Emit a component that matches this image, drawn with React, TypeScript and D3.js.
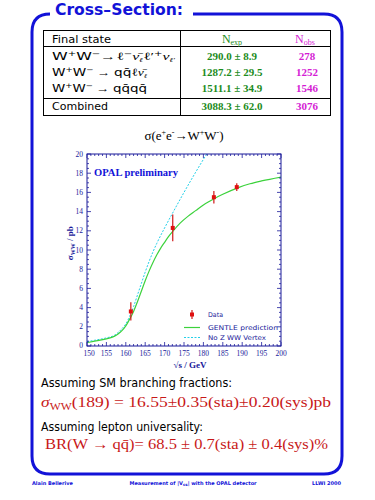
import React from "react";
import * as d3 from "d3";

const energies = [161.3, 172.1, 182.7, 188.6];
const xsec = [3.6, 12.3, 15.5, 16.55];
const xsecErr = [0.95, 1.4, 0.65, 0.4];

const gentleE = [150, 152, 155, 157, 158, 159, 160, 161, 162, 163, 164, 165, 166, 167, 168, 169, 170, 171, 172, 174, 176, 178, 180, 183, 185, 189, 192, 195, 200];
const gentleS = [0.35, 0.5, 0.75, 1.0, 1.25, 1.6, 2.1, 2.8, 3.6, 4.6, 5.7, 6.8, 7.8, 8.7, 9.5, 10.2, 10.8, 11.4, 11.9, 12.8, 13.5, 14.1, 14.7, 15.4, 15.8, 16.5, 16.9, 17.2, 17.6];

const noZE = [150, 152, 155, 157, 158, 159, 160, 161, 162, 163, 164, 165, 166, 167, 168, 170, 172, 175, 178, 181];
const noZS = [0.45, 0.6, 0.85, 1.1, 1.4, 1.8, 2.3, 3.1, 4.1, 5.3, 6.5, 7.7, 8.8, 9.8, 10.7, 12.3, 13.8, 16.0, 18.1, 20.1];

const xTicks = [150, 155, 160, 165, 170, 175, 180, 185, 190, 195, 200];
const yTicks = [0, 2, 4, 6, 8, 10, 12, 14, 16, 18, 20];

const tableNexp = ["290.0 ± 8.9", "1287.2 ± 29.5", "1511.1 ± 34.9"];
const tableNobs = ["278", "1252", "1546"];
const combinedNexp = "3088.3 ± 62.0";
const combinedNobs = "3076";

const BLUE = "#1212d8";
const AXIS = "#1a1a9a";
const GREEN = "#1c8c1c";
const MAGENTA = "#d41cd4";
const RED = "#c81818";

export default function App() {
  const x = d3.scaleLinear().domain([150, 200]).range([87, 281]);
  const y = d3.scaleLinear().domain([0, 20]).range([346, 154]);
  const gLine = d3
    .line<[number, number]>()
    .x((d) => x(d[0]))
    .y((d) => y(d[1]))
    .curve(d3.curveMonotoneX);
  const gentle = gLine(gentleE.map((e, i) => [e, gentleS[i]] as [number, number]));
  const noZ = gLine(noZE.map((e, i) => [e, noZS[i]] as [number, number]));

  const xMinor = d3.range(150, 201, 1);
  const yMinor = d3.range(0, 20.01, 0.5);

  const serif = "'Liberation Serif', 'DejaVu Serif', serif";
  const sans = "'DejaVu Sans', 'Liberation Sans', sans-serif";

  const rowY = [60, 76, 92];
  const [x0, x1] = x.range();
  const [y0, y1] = y.range();

  return (
    <svg width={375} height={500} style={{ position: "absolute", left: 0, top: 0, background: "#fff" }}>
      <defs>
        <clipPath id="plotclip">
          <rect x={x0} y={y1} width={x1 - x0} height={y0 - y1} />
        </clipPath>
      </defs>
      {/* frame */}
      <path
        d="M 50 14 Q 32 14 32 32 L 32 456 Q 32 474 50 474 L 324 474 Q 342 474 342 456 L 342 32 Q 342 14 324 14 L 193 14"
        fill="none"
        stroke={BLUE}
        strokeWidth={3}
      />
      <text x={55} y={15} fontFamily={sans} fontWeight="bold" fontSize={16} fill={BLUE} textLength={128} lengthAdjust="spacingAndGlyphs">
        Cross–Section:
      </text>

      {/* table */}
      <rect x={43.5} y={30.5} width={287} height={85} fill="none" stroke="#000" strokeWidth={1} />
      <line x1={43.5} x2={330.5} y1={46.5} y2={46.5} stroke="#000" />
      <line x1={43.5} x2={330.5} y1={98.5} y2={98.5} stroke="#000" />
      <line x1={180.5} x2={180.5} y1={30.5} y2={115.5} stroke="#000" />
      <text x={52} y={43} fontFamily={sans} fontSize={11} fill="#000" textLength={59} lengthAdjust="spacingAndGlyphs">Final state</text>
      <text x={232} y={43} textAnchor="middle" fontFamily={serif} fontSize={12} fill={GREEN}>
        N<tspan fontSize={8} dy={2}>exp</tspan>
      </text>
      <text x={305} y={43} textAnchor="middle" fontFamily={serif} fontSize={12} fill={MAGENTA}>
        N<tspan fontSize={8} dy={2}>obs</tspan>
      </text>
      {/* row 1 */}
      <text x={52} y={rowY[0]} fontFamily={sans} fontSize={11} fill="#000" textLength={123} lengthAdjust="spacingAndGlyphs">
        W<tspan fontSize={7} dy={-4}>+</tspan><tspan dy={4}>W</tspan><tspan fontSize={7} dy={-4}>−</tspan>
        <tspan dy={4} fontFamily={serif}>→ℓ</tspan><tspan fontSize={7} dy={-4}>−</tspan>
        <tspan dy={4} fontFamily={serif} fontStyle="italic">ν̄</tspan><tspan fontSize={6} dy={2} fontFamily={serif} fontStyle="italic">ℓ</tspan>
        <tspan dy={-2} fontFamily={serif}>ℓ′</tspan><tspan fontSize={7} dy={-4}>+</tspan>
        <tspan dy={4} fontFamily={serif} fontStyle="italic">ν</tspan><tspan fontSize={6} dy={2} fontFamily={serif} fontStyle="italic">ℓ′</tspan>
      </text>
      <text x={52} y={rowY[1]} fontFamily={sans} fontSize={11} fill="#000" textLength={95} lengthAdjust="spacingAndGlyphs">
        W<tspan fontSize={7} dy={-4}>+</tspan><tspan dy={4}>W</tspan><tspan fontSize={7} dy={-4}>−</tspan>
        <tspan dy={4} fontFamily={serif}> → </tspan><tspan>qq̄</tspan>
        <tspan fontFamily={serif}>ℓ</tspan><tspan fontFamily={serif} fontStyle="italic">ν̄</tspan>
        <tspan fontSize={6} dy={2} fontFamily={serif} fontStyle="italic">ℓ</tspan>
      </text>
      <text x={52} y={rowY[2]} fontFamily={sans} fontSize={11} fill="#000" textLength={95} lengthAdjust="spacingAndGlyphs">
        W<tspan fontSize={7} dy={-4}>+</tspan><tspan dy={4}>W</tspan><tspan fontSize={7} dy={-4}>−</tspan>
        <tspan dy={4} fontFamily={serif}> → </tspan><tspan>qq̄qq̄</tspan>
      </text>
      {tableNexp.map((v, i) => (
        <text key={"e" + i} x={232} y={rowY[i]} textAnchor="middle" fontFamily={serif} fontWeight="bold" fontSize={11} fill={GREEN}>
          {v}
        </text>
      ))}
      {tableNobs.map((v, i) => (
        <text key={"o" + i} x={307} y={rowY[i]} textAnchor="middle" fontFamily={serif} fontWeight="bold" fontSize={11} fill={MAGENTA}>
          {v}
        </text>
      ))}
      <text x={52} y={110} fontFamily={sans} fontSize={11} fill="#000" textLength={56} lengthAdjust="spacingAndGlyphs">Combined</text>
      <text x={232} y={110} textAnchor="middle" fontFamily={serif} fontWeight="bold" fontSize={11} fill={GREEN}>
        {combinedNexp}
      </text>
      <text x={307} y={110} textAnchor="middle" fontFamily={serif} fontWeight="bold" fontSize={11} fill={MAGENTA}>
        {combinedNobs}
      </text>

      {/* plot title */}
      <text x={184} y={140} textAnchor="middle" fontFamily={serif} fontSize={13} fill="#000">
        σ(e<tspan fontSize={8} dy={-5}>+</tspan><tspan dy={5}>e</tspan><tspan fontSize={8} dy={-5}>-</tspan>
        <tspan dy={5}>→W</tspan><tspan fontSize={8} dy={-5}>+</tspan><tspan dy={5}>W</tspan>
        <tspan fontSize={8} dy={-5}>-</tspan><tspan dy={5}>)</tspan>
      </text>

      {/* curves */}
      <g clipPath="url(#plotclip)">
        <path d={noZ || ""} fill="none" stroke="#22d0e8" strokeWidth={1} strokeDasharray="2,1.5" />
        <path d={gentle || ""} fill="none" stroke="#3cd23c" strokeWidth={1.2} />
      </g>

      {/* data */}
      {energies.map((e, i) => (
        <g key={"d" + i}>
          <line x1={x(e)} x2={x(e)} y1={y(xsec[i] - xsecErr[i])} y2={y(xsec[i] + xsecErr[i])} stroke="#d01818" strokeWidth={1.2} />
          <rect x={x(e) - 2} y={y(xsec[i]) - 2} width={4} height={4} fill="#e01010" />
        </g>
      ))}

      {/* axes frame */}
      <rect x={x0} y={y1} width={x1 - x0} height={y0 - y1} fill="none" stroke={AXIS} strokeWidth={1} />
      {xMinor.map((v) => {
        const major = v % 5 === 0;
        const l = major ? 4 : 2;
        return (
          <g key={"xt" + v}>
            <line x1={x(v)} x2={x(v)} y1={y0} y2={y0 - l} stroke={AXIS} strokeWidth={0.8} />
            <line x1={x(v)} x2={x(v)} y1={y1} y2={y1 + l} stroke={AXIS} strokeWidth={0.8} />
          </g>
        );
      })}
      {yMinor.map((v) => {
        const major = Math.abs(v % 2) < 1e-6;
        const l = major ? 4 : 2;
        return (
          <g key={"yt" + v}>
            <line x1={x0} x2={x0 + l} y1={y(v)} y2={y(v)} stroke={AXIS} strokeWidth={0.8} />
            <line x1={x1} x2={x1 - l} y1={y(v)} y2={y(v)} stroke={AXIS} strokeWidth={0.8} />
          </g>
        );
      })}
      {xTicks.map((v) => (
        <text key={"xl" + v} x={x(v) + (v === 150 ? 2 : 0)} y={356} textAnchor="middle" fontFamily={serif} fontSize={7.5} fill={AXIS}>
          {v}
        </text>
      ))}
      {yTicks.map((v) => (
        <text key={"yl" + v} x={83} y={y(v) + 2.5 - (v === 0 ? 1 : 0)} textAnchor="end" fontFamily={serif} fontSize={7.5} fill={AXIS}>
          {v}
        </text>
      ))}
      <text x={190} y={368} textAnchor="middle" fontFamily={serif} fontWeight="bold" fontSize={9} fill={AXIS}>
        √s / GeV
      </text>
      <text transform={`translate(73,${y(10.7)}) rotate(-90)`} textAnchor="middle" fontFamily={serif} fontWeight="bold" fontSize={9} fill={AXIS}>
        σ<tspan fontSize={6} dy={2}>WW</tspan><tspan dy={-2}> / pb</tspan>
      </text>
      <text x={94} y={176} fontFamily={serif} fontWeight="bold" fontSize={10} fill={BLUE} textLength={84} lengthAdjust="spacingAndGlyphs">
        OPAL preliminary
      </text>

      {/* legend */}
      <line x1={192} x2={192} y1={310} y2={319} stroke="#d01818" strokeWidth={1.2} />
      <rect x={190} y={312.5} width={4} height={4} fill="#e01010" />
      <text x={208} y={317} fontFamily={sans} fontSize={6.5} fill={AXIS} textLength={15} lengthAdjust="spacingAndGlyphs">Data</text>
      <line x1={184} x2={200} y1={327.5} y2={327.5} stroke="#3cd23c" strokeWidth={1.2} />
      <text x={208} y={330} fontFamily={sans} fontSize={6.5} fill={AXIS} textLength={70} lengthAdjust="spacingAndGlyphs">GENTLE prediction</text>
      <line x1={184} x2={200} y1={337.5} y2={337.5} stroke="#22d0e8" strokeWidth={1} strokeDasharray="2,1.5" />
      <text x={208} y={340} fontFamily={sans} fontSize={6.5} fill={AXIS} textLength={58} lengthAdjust="spacingAndGlyphs">No Z WW Vertex</text>

      {/* bottom statements */}
      <text x={41} y={387} fontFamily={sans} fontSize={12} fill="#000" textLength={191} lengthAdjust="spacingAndGlyphs">Assuming SM branching fractions:</text>
      <text x={41} y={407} fontFamily={serif} fontSize={15} fill={RED} textLength={290} lengthAdjust="spacingAndGlyphs">
        <tspan fontStyle="italic">σ</tspan><tspan fontSize={10} dy={3}>WW</tspan><tspan dy={-3}>(189) = 16.55±0.35(sta)±0.20(sys)pb</tspan>
      </text>
      <text x={41} y={431} fontFamily={sans} fontSize={12} fill="#000" textLength={162} lengthAdjust="spacingAndGlyphs">Assuming lepton universality:</text>
      <text x={45} y={449} fontFamily={serif} fontSize={15} fill={RED} textLength={283} lengthAdjust="spacingAndGlyphs">
        BR(W → qq̄)= 68.5 ± 0.7(sta) ± 0.4(sys)%
      </text>

      {/* footer */}
      <text x={32} y={485} fontFamily={sans} fontWeight="bold" fontSize={5} fill={BLUE}>Alain Bellerive</text>
      <text x={193} y={485} textAnchor="middle" fontFamily={sans} fontWeight="bold" fontSize={5} fill={BLUE}>
        Measurement of |V<tspan fontSize={4} dy={1}>cs</tspan><tspan dy={-1}>| with the OPAL detector</tspan>
      </text>
      <text x={341} y={485} textAnchor="end" fontFamily={sans} fontWeight="bold" fontSize={5} fill={BLUE}>LLWI 2000</text>
    </svg>
  );
}
